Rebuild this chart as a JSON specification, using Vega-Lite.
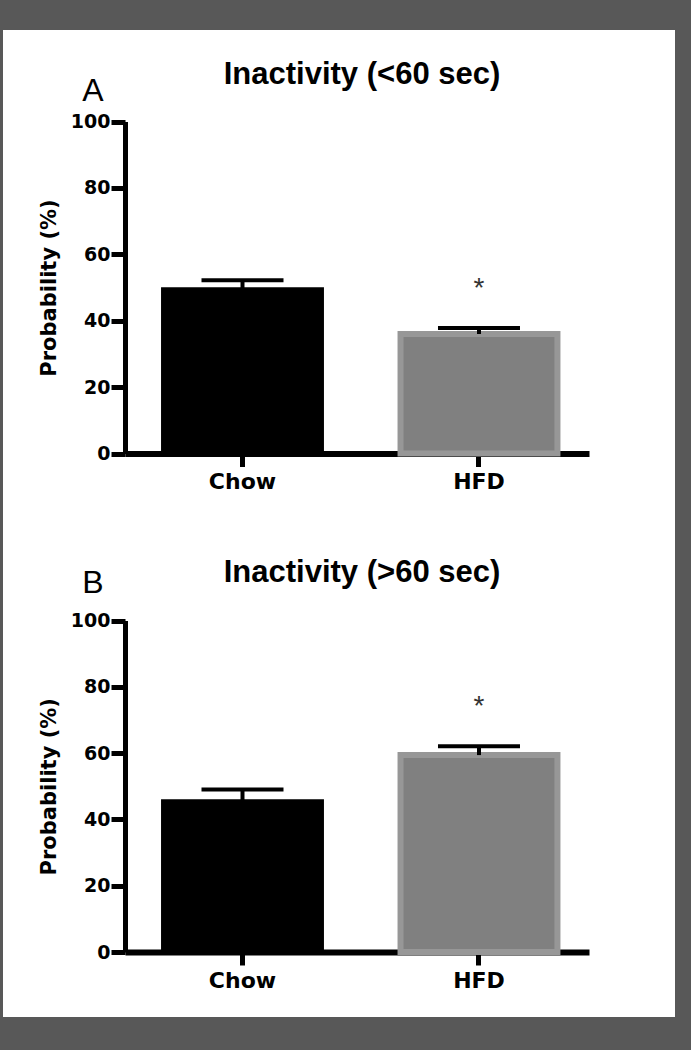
{
  "$schema": "https://vega.github.io/schema/vega-lite/v6.json",
  "background": "#585858",
  "padding": {"left": 3, "top": 30, "right": 16, "bottom": 33},
  "spacing": 0,
  "config": {
    "view": {"stroke": null, "fill": "white"},
    "axis": {"grid": false, "domainColor": "black", "tickColor": "black", "labelColor": "black", "titleColor": "black", "zindex": 1, "labelFlush": false, "labelOverlap": false}
  },
  "datasets": {
    "A": [
      {"diet": "Chow", "mean": 49.2, "upper": 52.2, "sig": ""},
      {"diet": "HFD", "mean": 36.0, "upper": 37.8, "sig": "*"}
    ],
    "B": [
      {"diet": "Chow", "mean": 45.2, "upper": 49.0, "sig": ""},
      {"diet": "HFD", "mean": 59.4, "upper": 62.1, "sig": "*"}
    ]
  },
  "vconcat": [
    {
      "width": 672,
      "height": 497,
      "data": {"name": "A"},
      "title": {"text": "Inactivity (<60 sec)", "anchor": "middle", "frame": "group", "dx": 23, "offset": -85, "baseline": "alphabetic", "font": "Liberation Sans", "fontSize": 31, "fontWeight": "bold", "color": "black"},
      "encoding": {
        "x": {
          "field": "diet", "type": "nominal", "sort": ["Chow", "HFD"],
          "scale": {"range": [122, 586], "paddingInner": 0.311, "paddingOuter": 0.1365, "align": 0.558},
          "axis": {"title": null, "labelAngle": 0, "offset": -73.5, "domainWidth": 6, "tickSize": 13, "tickWidth": 5, "labelFont": "DejaVu Sans", "labelFontSize": 22, "labelFontWeight": "bold", "labelPadding": 5}
        }
      },
      "layer": [
        {
          "mark": {"type": "bar", "width": {"band": 0.963}, "strokeWidth": 6},
          "encoding": {
            "y": {"field": "mean", "type": "quantitative", "title": "Probability (%)",
              "scale": {"domain": [0, 100], "range": [423.5, 91.5], "nice": false},
              "axis": {"values": [0, 20, 40, 60, 80, 100], "offset": -122, "domainWidth": 5, "tickSize": 14, "tickWidth": 5, "labelFont": "DejaVu Sans", "labelFontSize": 19, "labelFontWeight": "bold", "labelPadding": 1, "titleFont": "DejaVu Sans", "titleFontSize": 21, "titleFontWeight": "bold", "titlePadding": 11}},
            "fill": {"field": "diet", "type": "nominal", "scale": {"domain": ["Chow", "HFD"], "range": ["#000000", "#808080"]}, "legend": null},
            "stroke": {"field": "diet", "type": "nominal", "scale": {"domain": ["Chow", "HFD"], "range": ["#000000", "#979797"]}, "legend": null}
          }
        },
        {
          "mark": {"type": "rule", "strokeWidth": 4, "color": "black"},
          "encoding": {"y": {"field": "mean", "type": "quantitative", "title": "Probability (%)"}, "y2": {"field": "upper"}}
        },
        {
          "mark": {"type": "tick", "size": 82, "thickness": 4, "color": "black", "opacity": 1},
          "encoding": {"y": {"field": "upper", "type": "quantitative", "title": "Probability (%)"}}
        },
        {
          "mark": {"type": "text", "font": "Liberation Sans", "fontSize": 28, "dy": -31, "baseline": "alphabetic", "align": "center", "color": "#333333"},
          "encoding": {"y": {"field": "upper", "type": "quantitative", "title": "Probability (%)"}, "text": {"field": "sig"}}
        },
        {
          "data": {"values": [{"label": "A"}]},
          "mark": {"type": "text", "font": "Liberation Sans", "fontSize": 32, "dx": -68, "baseline": "alphabetic", "align": "center", "color": "black"},
          "encoding": {"x": {"datum": "Chow", "bandPosition": 0}, "y": {"datum": 106.2, "type": "quantitative", "title": "Probability (%)"}, "text": {"field": "label"}}
        }
      ]
    },
    {
      "width": 672,
      "height": 490,
      "data": {"name": "B"},
      "title": {"text": "Inactivity (>60 sec)", "anchor": "middle", "frame": "group", "dx": 23, "offset": -85.5, "baseline": "alphabetic", "font": "Liberation Sans", "fontSize": 31, "fontWeight": "bold", "color": "black"},
      "encoding": {
        "x": {
          "field": "diet", "type": "nominal", "sort": ["Chow", "HFD"],
          "scale": {"range": [122, 586], "paddingInner": 0.311, "paddingOuter": 0.1365, "align": 0.558},
          "axis": {"title": null, "labelAngle": 0, "offset": -65, "domainWidth": 6, "tickSize": 13, "tickWidth": 5, "labelFont": "DejaVu Sans", "labelFontSize": 22, "labelFontWeight": "bold", "labelPadding": 5}
        }
      },
      "layer": [
        {
          "mark": {"type": "bar", "width": {"band": 0.963}, "strokeWidth": 6},
          "encoding": {
            "y": {"field": "mean", "type": "quantitative", "title": "Probability (%)",
              "scale": {"domain": [0, 100], "range": [425, 93.5], "nice": false},
              "axis": {"values": [0, 20, 40, 60, 80, 100], "offset": -122, "domainWidth": 5, "tickSize": 14, "tickWidth": 5, "labelFont": "DejaVu Sans", "labelFontSize": 19, "labelFontWeight": "bold", "labelPadding": 1, "titleFont": "DejaVu Sans", "titleFontSize": 21, "titleFontWeight": "bold", "titlePadding": 11}},
            "fill": {"field": "diet", "type": "nominal", "scale": {"domain": ["Chow", "HFD"], "range": ["#000000", "#808080"]}, "legend": null},
            "stroke": {"field": "diet", "type": "nominal", "scale": {"domain": ["Chow", "HFD"], "range": ["#000000", "#979797"]}, "legend": null}
          }
        },
        {
          "mark": {"type": "rule", "strokeWidth": 4, "color": "black"},
          "encoding": {"y": {"field": "mean", "type": "quantitative", "title": "Probability (%)"}, "y2": {"field": "upper"}}
        },
        {
          "mark": {"type": "tick", "size": 82, "thickness": 4, "color": "black", "opacity": 1},
          "encoding": {"y": {"field": "upper", "type": "quantitative", "title": "Probability (%)"}}
        },
        {
          "mark": {"type": "text", "font": "Liberation Sans", "fontSize": 28, "dy": -31, "baseline": "alphabetic", "align": "center", "color": "#333333"},
          "encoding": {"y": {"field": "upper", "type": "quantitative", "title": "Probability (%)"}, "text": {"field": "sig"}}
        },
        {
          "data": {"values": [{"label": "B"}]},
          "mark": {"type": "text", "font": "Liberation Sans", "fontSize": 32, "dx": -68, "baseline": "alphabetic", "align": "center", "color": "black"},
          "encoding": {"x": {"datum": "Chow", "bandPosition": 0}, "y": {"datum": 108.3, "type": "quantitative", "title": "Probability (%)"}, "text": {"field": "label"}}
        }
      ]
    }
  ]
}
